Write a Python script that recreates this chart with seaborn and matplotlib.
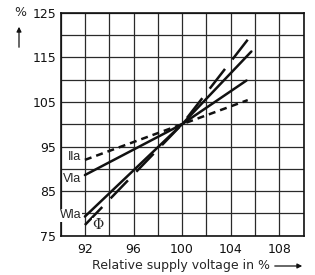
"""
Lamp characteristics vs. relative supply voltage
"""

import pandas as pd
import matplotlib
matplotlib.use('Agg')
import matplotlib.pyplot as plt
import seaborn as sns

sns.set_style('white')
plt.rcParams['font.family'] = ['DejaVu Sans']

# data (x = relative supply voltage in %, y = %)
x_ila = [92, 100, 105.4]
y_ila = [92.0, 100, 105.4]

x_vla = [92, 100, 105.3]
y_vla = [88.6, 100, 109.8]

x_wla = [92, 100, 105.7]
y_wla = [79.3, 100, 116.3]

x_phi = [92, 100, 105.7]
y_phi = [77.4, 100, 120.0]

series = ['Ila', 'Vla', 'Wla', 'Phi']
xs = [x_ila, x_vla, x_wla, x_phi]
ys = [y_ila, y_vla, y_wla, y_phi]

x_ticks_labelled = [92, 96, 100, 104, 108]
y_ticks_labelled = [75, 85, 95, 105, 115, 125]

df = pd.concat([pd.DataFrame({'v': x, 'pct': y, 'curve': s})
                for s, x, y in zip(series, xs, ys)], ignore_index=True)

fig = plt.figure(figsize=(3.15, 2.75), dpi=100)
ax = fig.add_axes([0.1924, 0.1429, 0.7714, 0.8109])

# grid
for gx in range(90, 111, 2):
    ax.axvline(gx, color='#2a2a2a', lw=0.9, zorder=1)
for gy in range(75, 126, 5):
    ax.axhline(gy, color='#2a2a2a', lw=0.9, zorder=1)

dash_styles = {'Ila': (2.8, 2.0), 'Vla': '', 'Wla': '', 'Phi': (10, 4.8)}
sns.lineplot(data=df, x='v', y='pct', hue='curve', style='curve',
             palette=['#111111'] * 4, dashes=dash_styles, lw=1.8,
             legend=False, ax=ax, zorder=3, sort=False)

ax.set_xlim(90, 110)
ax.set_ylim(75, 125)
ax.set_xticks(x_ticks_labelled)
ax.set_yticks(y_ticks_labelled)
ax.tick_params(length=0, labelsize=9, colors='#111111')
ax.tick_params(axis='x', pad=5)
ax.tick_params(axis='y', pad=3)
for sp in ax.spines.values():
    sp.set_color('#111111')
    sp.set_linewidth(1.2)
ax.set_xlabel('')
ax.set_ylabel('')

# curve labels
box = dict(facecolor='white', edgecolor='none', pad=0.3)
lab = dict(ha='right', va='center', fontsize=9, family=['Liberation Sans'],
           bbox=box, zorder=4)
ax.text(91.7, 92.6, 'Ila', **lab)
ax.text(91.7, 87.7, 'Vla', **lab)
ax.text(91.7, 79.6, 'Wla', **lab)
ax.text(93.1, 77.3, 'Φ', ha='center', va='center', fontsize=10,
        family=['DejaVu Serif'], bbox=box, zorder=4)

# axis captions with arrows
fig.text(20 / 315, 1 - 13 / 275, '%', ha='center', va='center', fontsize=9)
fig.add_artist(matplotlib.patches.FancyArrowPatch(
    (19 / 315, 1 - 50 / 275), (19 / 315, 1 - 24 / 275),
    transform=fig.transFigure, arrowstyle='-|>', mutation_scale=7,
    color='#111111', lw=0.9))
fig.text(181 / 315, 1 - 266 / 275, 'Relative supply voltage in %',
         ha='center', va='center', fontsize=9)
fig.add_artist(matplotlib.patches.FancyArrowPatch(
    (272 / 315, 1 - 266 / 275), (305 / 315, 1 - 266 / 275),
    transform=fig.transFigure, arrowstyle='-|>', mutation_scale=7,
    color='#111111', lw=0.9))

plt.savefig('out.png', dpi=100)
